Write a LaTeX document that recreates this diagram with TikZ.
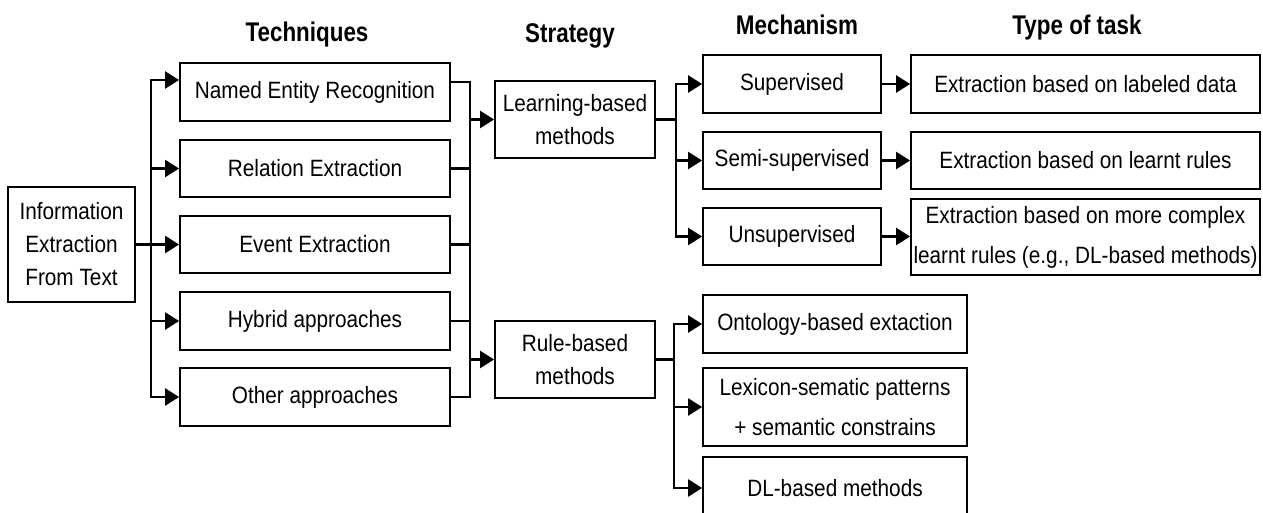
\documentclass[tikz,border=0pt]{standalone}
\usepackage{fontspec}
\setmainfont[FakeStretch=0.88]{Liberation Sans}
\newfontfamily\headfont[FakeStretch=0.83]{Liberation Sans}
\usetikzlibrary{arrows.meta,calc}
\begin{document}
\begin{tikzpicture}[x=1pt,y=-1pt,
  box/.style={draw, line width=1.8pt, inner sep=0pt, align=center,
    font=\fontsize{23.6}{33}\selectfont},
  tallbox/.style={box, font=\fontsize{23.6}{40}\selectfont},
  head/.style={anchor=base, font=\headfont\fontsize{27}{30}\selectfont\bfseries},
  line/.style={line width=2.3pt},
  arr/.style={line width=2.3pt, -{Triangle[length=14pt,width=17pt]}}]
\useasboundingbox (0,0) rectangle (1263,513);
\clip (0,0) rectangle (1263,513);
% headers
\node[head] (hT) at (307,42) {Techniques};
\node[head] (hS) at (570,43) {Strategy};
\node[head] (hM) at (797,35) {Mechanism};
\node[head] (hY) at (1077,35) {Type of task};
% boxes
\node[box, minimum width=127pt, minimum height=115pt] (info) at (71.5,244.5) {Information\\Extraction\\From Text};
\node[box, minimum width=270pt, minimum height=58pt] (ner) at (315,92) {Named Entity Recognition};
\node[box, minimum width=270pt, minimum height=57pt] (re) at (315,168.5) {Relation Extraction};
\node[box, minimum width=270pt, minimum height=57pt] (ee) at (315,244.5) {Event Extraction};
\node[box, minimum width=270pt, minimum height=58pt] (ha) at (315,321) {Hybrid approaches};
\node[box, minimum width=270pt, minimum height=58pt] (oa) at (315,397) {Other approaches};
\node[box, minimum width=160pt, minimum height=77pt] (lb) at (575,119.5) {Learning-based\\methods};
\node[box, minimum width=160pt, minimum height=77pt] (rb) at (575,359.5) {Rule-based\\methods};
\node[box, minimum width=178pt, minimum height=58pt] (sup) at (792,84) {Supervised};
\node[box, minimum width=178pt, minimum height=57pt] (semi) at (792,160.5) {Semi-supervised};
\node[box, minimum width=178pt, minimum height=57pt] (unsup) at (792,236.5) {Unsupervised};
\node[box, minimum width=349pt, minimum height=58pt] (t1) at (1085.5,84) {Extraction based on labeled data};
\node[box, minimum width=349pt, minimum height=57pt] (t2) at (1085.5,160.5) {Extraction based on learnt rules};
\node[tallbox, minimum width=349pt, minimum height=76pt] (t3) at (1085.5,237) {Extraction based on more complex\\learnt rules (e.g., DL-based methods)};
\node[box, minimum width=264pt, minimum height=58pt] (ont) at (835,324) {Ontology-based extaction};
\node[tallbox, minimum width=264pt, minimum height=78pt] (lex) at (835,407) {Lexicon-sematic patterns\\+ semantic constrains};
\node[box, minimum width=264pt, minimum height=62pt] (dl) at (835,488) {DL-based methods};
% info -> techniques
\draw[arr] (info.east) -- ++(15,0) |- ($(ner.west)+(0,-12)$);
\foreach \t in {re,ee,ha,oa}
  \draw[arr] (info.east) -- ++(15,0) |- (\t.west);
% techniques -> strategy
\coordinate (b2) at (470,0);
\coordinate (nerx) at ($(ner.east)+(0,-10)$);
\draw[line] (nerx) -- (nerx -| b2) -- (oa.east -| b2) -- (oa.east);
\foreach \t in {re,ee,ha}
  \draw[line] (\t.east) -- (\t.east -| b2);
\draw[arr] (lb.west -| b2) -- (lb.west);
\draw[arr] (rb.west -| b2) -- (rb.west);
% learning -> mechanisms
\foreach \t in {sup,semi,unsup}
  \draw[arr] (lb.east) -- ++(20,0) |- (\t.west);
% rule -> children
\foreach \t in {ont,lex,dl}
  \draw[arr] (rb.east) -- ++(18,0) |- (\t.west);
% mechanisms -> tasks
\draw[arr] (sup.east) -- (t1.west);
\draw[arr] (semi.east) -- (t2.west);
\draw[arr] (unsup.east) -- (unsup.east -| t3.west);
\end{tikzpicture}
\end{document}
